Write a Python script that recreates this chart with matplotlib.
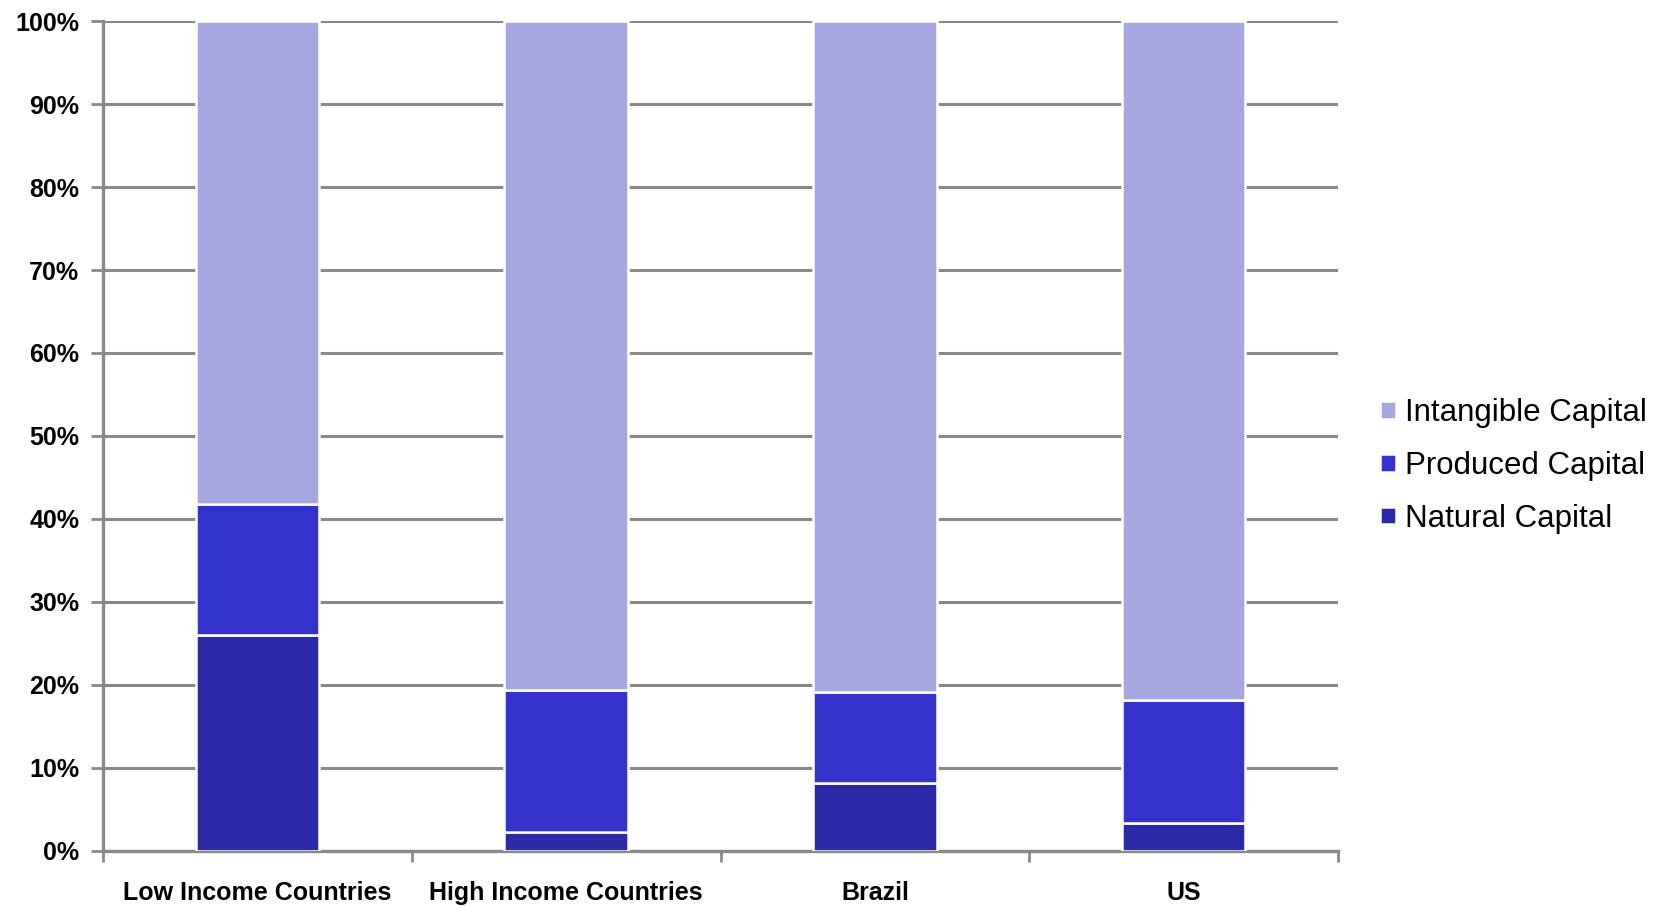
import matplotlib
matplotlib.use("Agg")
import matplotlib.pyplot as plt
import numpy as np

categories = ["Low Income Countries", "High Income Countries", "Brazil", "US"]
natural = [26.0, 2.2, 8.2, 3.3]
produced = [15.8, 17.2, 10.9, 14.9]
intangible = [58.2, 80.6, 80.9, 81.8]
series_names = ["Natural Capital", "Produced Capital", "Intangible Capital"]
colors = ["#2A2AA6", "#3333CC", "#A6A6E0"]
yticks = [0, 10, 20, 30, 40, 50, 60, 70, 80, 90, 100]

plt.rcParams["font.family"] = ["Liberation Sans", "DejaVu Sans"]
grey = "#898989"

fig = plt.figure(figsize=(16.63, 9.06), dpi=100)
ax = fig.add_axes([103 / 1663, 1 - 850.6 / 906, (1338 - 103) / 1663, (850.6 - 21.2) / 906])

x = np.arange(len(categories))
bottom = np.zeros(len(categories))
handles = []
for vals, name, col in zip([natural, produced, intangible], series_names, colors):
    b = ax.bar(x, vals, width=0.4, bottom=bottom, color=col, edgecolor="white",
               linewidth=1.8, label=name, zorder=3)
    handles.append(b)
    bottom += np.asarray(vals)

ax.set_xlim(-0.5, len(categories) - 0.5)
ax.set_ylim(0, 100)
ax.set_yticks(yticks)
ax.set_yticklabels([f"{v}%" for v in yticks], fontsize=18, fontweight="bold")
ax.yaxis.grid(True, color=grey, lw=2.2, zorder=0)
ax.set_axisbelow(True)

ax.set_xticks(x)
ax.set_xticklabels(categories, fontsize=18, fontweight="bold")
ax.tick_params(axis="x", which="major", length=0, pad=22)
ax.set_xticks(np.arange(-0.5, len(categories), 1.0), minor=True)
ax.tick_params(axis="x", which="minor", length=8, width=2, color=grey, direction="out")
ax.tick_params(axis="y", length=9, width=2, color=grey, direction="out", pad=8)

for s in ["top", "right"]:
    ax.spines[s].set_visible(False)
for s in ["left", "bottom"]:
    ax.spines[s].set_color(grey)
    ax.spines[s].set_linewidth(2.4)

leg = fig.legend(handles[::-1], series_names[::-1], loc="center left",
                 bbox_to_anchor=(1380 / 1663, 1 - 466 / 906), frameon=False,
                 fontsize=22.5, handlelength=0.5, handleheight=0.5,
                 handletextpad=0.3, labelspacing=0.72, borderpad=0, borderaxespad=0)

fig.savefig("out.png", dpi=100)
